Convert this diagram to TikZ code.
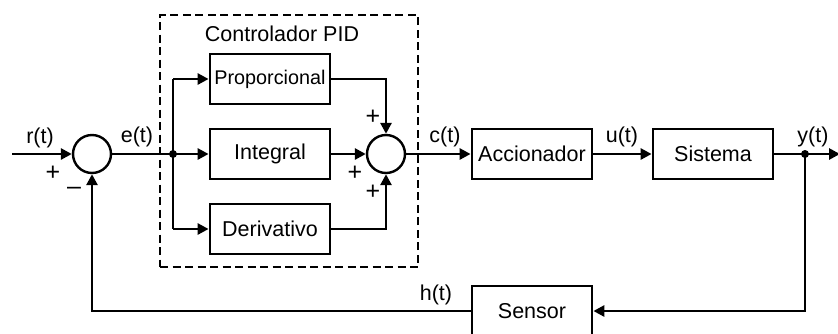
\documentclass[tikz,border=0pt]{standalone}
\usepackage{fontspec}
\setmainfont{Liberation Sans}
\usetikzlibrary{arrows.meta}
\begin{document}
\begin{tikzpicture}[x=1pt,y=-1pt,
  line width=2.8pt,
  blk/.style={draw, line width=2.8pt, minimum width=120pt, minimum height=50pt, inner sep=0pt, font=\fontsize{21.5}{24}\selectfont},
  sumc/.style={draw, circle, line width=2.4pt, minimum size=38pt, inner sep=0pt},
  lbl/.style={font=\fontsize{21.5}{24}\selectfont, inner sep=0pt},
  sgn/.style={font=\fontsize{25}{26}\selectfont, inner sep=0pt},
  arr/.style={-{Triangle[length=11pt,width=11pt]}},
  dotc/.style={circle, fill, minimum size=8pt, inner sep=0pt}]
\useasboundingbox (0,0) rectangle (838,333);
\clip (0,0) rectangle (838,333);
\fill[white] (0,0) rectangle (838,333);
% dashed PID frame
\node[draw, line width=1.9pt, dash pattern=on 8pt off 4.5pt, minimum width=258pt, minimum height=252pt, inner sep=0pt] (pid) at (289,141) {};
\node[lbl] (pidl) at (282,34) {Controlador PID};
% nodes
\coordinate (in) at (12,154);
\node[sumc] (s1) at (92,154) {};
\coordinate (j) at (173,154);
\node[dotc] (jd) at (j) {};
\node[blk, font=\fontsize{19.8}{22}\selectfont] (P) at (270,79) {Proporcional};
\node[blk] (I) at (270,154) {Integral};
\node[blk] (D) at (270,229) {Derivativo};
\node[sumc] (s2) at (386,154) {};
\node[blk] (A) at (532,154) {Accionador};
\node[blk] (S) at (713,154) {Sistema};
\coordinate (yj) at (805,154);
\node[dotc] (yd) at (yj) {};
\coordinate (out) at (840,154);
\node[blk] (Se) at (532,311) {Sensor};
\coordinate (c1) at (805,311);
\coordinate (c2) at (92,311);
\coordinate (jt) at (173,79);
\coordinate (jb) at (173,229);
\coordinate (pr) at (386,79);
\coordinate (dr) at (386,229);
% connectors
\draw[arr] (in) -- (s1.west);
\draw (s1.east) -- (j);
\draw (jt) -- (jb);
\draw[arr] (jt) -- (P.west);
\draw[arr] (j) -- (I.west);
\draw[arr] (jb) -- (D.west);
\draw[arr] (P.east) -- (pr) -- (s2.north);
\draw[arr] (I.east) -- (s2.west);
\draw[arr] (D.east) -- (dr) -- (s2.south);
\draw[arr] (s2.east) -- (A.west);
\draw[arr] (A.east) -- (S.west);
\draw (S.east) -- (yj);
\draw[arr] (yj) -- (out);
\draw[arr] (yj) -- (c1) -- (Se.east);
\draw[arr] (Se.west) -- (c2) -- (s1.south);
% labels
\node[lbl] (lr) at (40,138) {r(t)};
\node[sgn] (p1) at (53,173) {+};
\node[sgn] (m1) at (74,191) {\textendash};
\node[lbl] (le) at (137,137) {e(t)};
\node[sgn] (p2) at (373,117) {+};
\node[sgn] (p3) at (355,173) {+};
\node[sgn] (p4) at (373,192) {+};
\node[lbl] (lc) at (445,137) {c(t)};
\node[lbl] (lu) at (622,137) {u(t)};
\node[lbl] (ly) at (813,137) {y(t)};
\node[lbl] (lh) at (436,295) {h(t)};
\end{tikzpicture}
\end{document}
